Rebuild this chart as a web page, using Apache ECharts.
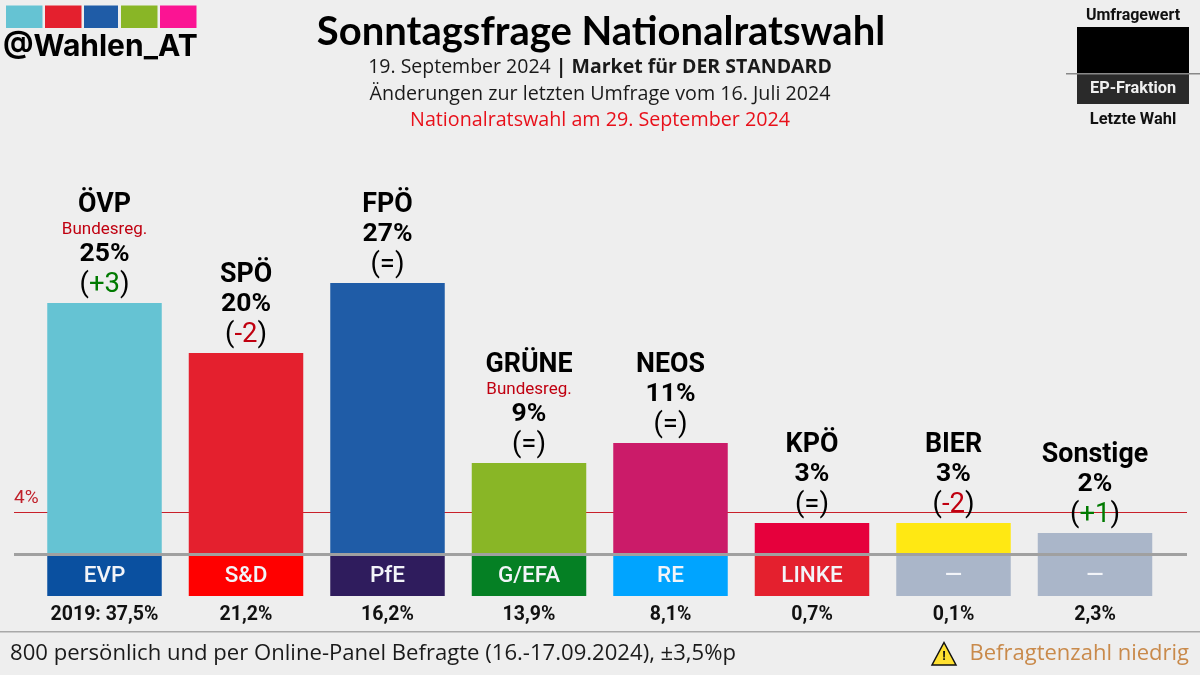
<!DOCTYPE html>
<html><head><meta charset="utf-8">
<style>html,body{margin:0;padding:0;background:#eeeeee}#c{width:1200px;height:675px}</style>
<script src="https://cdn.jsdelivr.net/npm/echarts@6/dist/echarts.min.js"></script>
</head><body><div id="c"></div>
<script>
const parties = ['ÖVP','SPÖ','FPÖ','GRÜNE','NEOS','KPÖ','BIER','Sonstige'];
const poll = [25,20,27,9,11,3,3,2];
const change = ['+3','-2','=','=','=','=','-2','+1'];
const note = ['Bundesreg.','','','Bundesreg.','','','',''];
const partyColors = ['#65c3d3','#e4202e','#1f5ca7','#89b626','#cb1b69','#e6003c','#ffe813','#aab6c9'];
const groups = ['EVP','S&D','PfE','G/EFA','RE','LINKE','—','—'];
const groupColors = ['#0a50a0','#ff0000','#2f1c5d','#058024','#00a4ff','#e4202e','#aab6c9','#aab6c9'];
const lastElection = ['2019: 37,5%','21,2%','16,2%','13,9%','8,1%','0,7%','0,1%','2,3%'];
const logoColors = ['#65c3d3','#e4202e','#1f5ca7','#89b626','#fb1493'];
const threshold = 4;
const groupBlock = [-4.3,-4.3,-4.3,-4.3,-4.3,-4.3,-4.3,-4.3];

const F='Roboto, sans-serif', N='"Open Sans", sans-serif';
function topLabel(i){
  const c=change[i];
  const col=c[0]==='+'?'g':c[0]==='-'?'r':'k';
  let s='{n|'+parties[i]+'}\n';
  if(note[i]) s+='{b|'+note[i]+'}\n';
  s+='{p|'+poll[i]+'%}\n{d|(}{'+col+'|'+c+'}{d|)}';
  return s;
}
const chart=echarts.init(document.getElementById('c'),null,{renderer:'canvas'});
const rect=(x,y,w,h,fill,z)=>({type:'rect',shape:{x,y,width:w,height:h},style:{fill},z:z||10});
const txt=(x,y,text,font,fill,align)=>({type:'text',x,y,style:{text,font,fill,textAlign:align||'center',textVerticalAlign:'middle'},z:11});
const hLine=(value,color,width,z,name)=>({type:'custom',name,z,silent:true,data:[[0,value]],
  renderItem:(p,api)=>{const y=api.coord([0,api.value(1)])[1];
    return {type:'rect',shape:{x:14,y:Math.floor(y-width/2),width:1173,height:width},style:{fill:color}};}});
chart.setOption({
  animation:false,
  backgroundColor:'#eeeeee',
  title:{text:'Sonntagsfrage Nationalratswahl',left:596,top:7,textAlign:'center',
    textStyle:{fontFamily:'Lato, sans-serif',fontWeight:700,fontSize:40,color:'#000'}},
  grid:{left:33.75,width:1132,top:0,height:600},
  xAxis:{type:'category',data:lastElection,axisLine:{show:false},axisTick:{show:false},
    axisLabel:{interval:0,margin:5,fontFamily:F,fontWeight:700,fontSize:19.5,color:'#111',lineHeight:20}},
  yAxis:{type:'value',min:-4.7,max:55.3,show:false,splitLine:{show:false}},
  series:[
    hLine(threshold,'#c8202a',1,1,'Sperrklausel'),
    {type:'bar',name:'Umfragewert',barWidth:114.5,barGap:'-100%',z:3,
      data:poll.map((v,i)=>({value:v,itemStyle:{color:partyColors[i]},
        label:{formatter:topLabel(i)}})),
      label:{show:true,position:'top',distance:2,align:'center',fontFamily:F,rich:{
        n:{fontFamily:F,fontWeight:700,fontSize:26.8,lineHeight:29,color:'#000',align:'center'},
        b:{fontFamily:F,fontSize:17,lineHeight:20,color:'#c00010',align:'center'},
        p:{fontFamily:F,fontWeight:700,fontSize:26.5,lineHeight:29,color:'#000',align:'center'},
        d:{fontFamily:F,fontSize:27.5,lineHeight:32,color:'#000'},
        k:{fontFamily:F,fontSize:27.5,lineHeight:32,color:'#000'},
        g:{fontFamily:F,fontSize:27.5,lineHeight:32,color:'#007a00'},
        r:{fontFamily:F,fontSize:27.5,lineHeight:32,color:'#c00010'}
      }}
    },
    {type:'bar',name:'EP-Fraktion',barWidth:114.5,barGap:'-100%',z:3,
      data:groupBlock.map((v,i)=>({value:v,itemStyle:{color:groupColors[i]},label:{formatter:groups[i]}})),
      label:{show:true,position:'inside',offset:[0,2],fontFamily:F,fontWeight:500,fontSize:22.5,color:'#f2f4f8'}
    },
    hLine(-0.2,'#a0a0a0',3,6,'Null')
  ],
  graphic:{elements:[
    ...logoColors.map((c,i)=>rect([6,45,84,121,160][i],5.5,[36.5,36.5,34,36.5,36.5][i],22.5,c)),
    txt(3,47,'@Wahlen_AT','700 30px Inter, sans-serif','#000','left'),
    {type:'text',x:600,y:67,z:11,style:{text:'{a|19. September 2024 }{b|| Market für DER STANDARD}',
      textAlign:'center',textVerticalAlign:'middle',
      rich:{a:{fontFamily:N,fontSize:19.5,fill:'#1a1a1a'},b:{fontFamily:N,fontSize:19.5,fontWeight:700,fill:'#1a1a1a'}}}},
    txt(600,94,'Änderungen zur letzten Umfrage vom 16. Juli 2024','19.7px '+N,'#1a1a1a'),
    txt(600,120,'Nationalratswahl am 29. September 2024','19.7px '+N,'#e8101a'),
    txt(14,498,'4%','19px '+F,'#c0202a','left'),
    txt(1133,16,'Umfragewert','700 16px '+F,'#111'),
    rect(1077,27,112,46,'#000'),
    rect(1077,74,112,30,'#2a2a2a'),
    rect(1066,73,134,1.5,'#888888',12),
    txt(1133,89,'EP-Fraktion','700 16.3px '+F,'#f0f0f0'),
    txt(1133,120,'Letzte Wahl','700 16.4px '+F,'#111'),
    rect(0,631,1200,1.5,'#a8a8a8'),
    txt(10,654,'800 persönlich und per Online-Panel Befragte (16.-17.09.2024), ±3,5%p','22.1px '+N,'#1a1a1a','left'),
    txt(1189,654,'Befragtenzahl niedrig','22px '+N,'#c98a4b','right'),
    {type:'polygon',shape:{points:[[944,642.5],[956,665],[932,665]]},style:{fill:'#ffe030',stroke:'#111',lineWidth:1.5},z:11},
    txt(944,657,'!','700 13px '+F,'#111')
  ]}
});
</script></body></html>
